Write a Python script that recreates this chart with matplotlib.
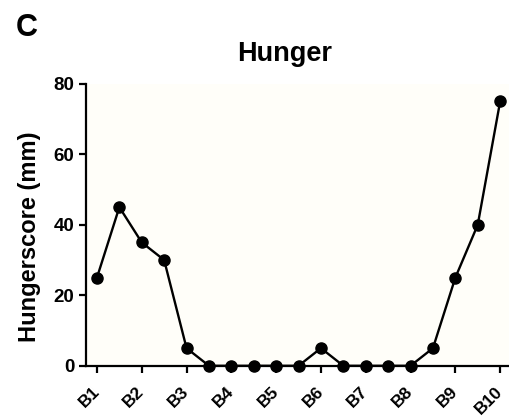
"""
Hunger score line chart (panel C).
"""

import matplotlib
matplotlib.use("Agg")
import matplotlib.pyplot as plt

plt.rcParams["font.family"] = ["Liberation Sans", "DejaVu Sans"]
plt.rcParams["font.weight"] = "bold"

# data
positions = [1, 1.5, 2, 2.5, 3, 3.5, 4, 4.5, 5, 5.5, 6, 6.5, 7, 7.5, 8, 8.5, 9, 9.5, 10]
hunger = [25, 45, 35, 30, 5, 0, 0, 0, 0, 0, 5, 0, 0, 0, 0, 5, 25, 40, 75]
tick_pos = [1, 2, 3, 4, 5, 6, 7, 8, 9, 10]
tick_labels = ["B1", "B2", "B3", "B4", "B5", "B6", "B7", "B8", "B9", "B10"]
y_ticks = [0, 20, 40, 60, 80]


def main():
    fig = plt.figure(figsize=(5.09, 4.19), dpi=100)
    ax = fig.add_axes([0.169, 0.127, 0.84, 0.673])
    ax.set_facecolor("#fffef9")

    ax.plot(positions, hunger, color="black", lw=1.7, marker="o",
            markersize=8, clip_on=False, zorder=3)

    ax.set_xlim(0.756, 10.3)
    ax.set_ylim(0, 80)
    ax.set_yticks(y_ticks)
    ax.set_xticks(tick_pos)
    ax.set_xticklabels(tick_labels, rotation=45, ha="right", va="center",
                       rotation_mode="anchor")

    for side in ["top", "right"]:
        ax.spines[side].set_visible(False)
    for side in ["left", "bottom"]:
        ax.spines[side].set_linewidth(1.6)
    ax.tick_params(axis="both", width=1.6, length=5, labelsize=13.5)
    ax.tick_params(axis="x", pad=12, labelsize=12.5)

    ax.set_ylabel("Hungerscore (mm)", fontsize=17, fontweight="bold")
    ax.yaxis.set_label_coords(-0.105, 0.457)
    fig.text(0.56, 1 - 54 / 419, "Hunger", fontsize=19.5, fontweight="bold",
             ha="center", va="center")
    fig.text(0.03, 1 - 36 / 419, "C", fontsize=22, fontweight="bold",
             va="baseline")

    fig.savefig("out.png", dpi=100)


main()
